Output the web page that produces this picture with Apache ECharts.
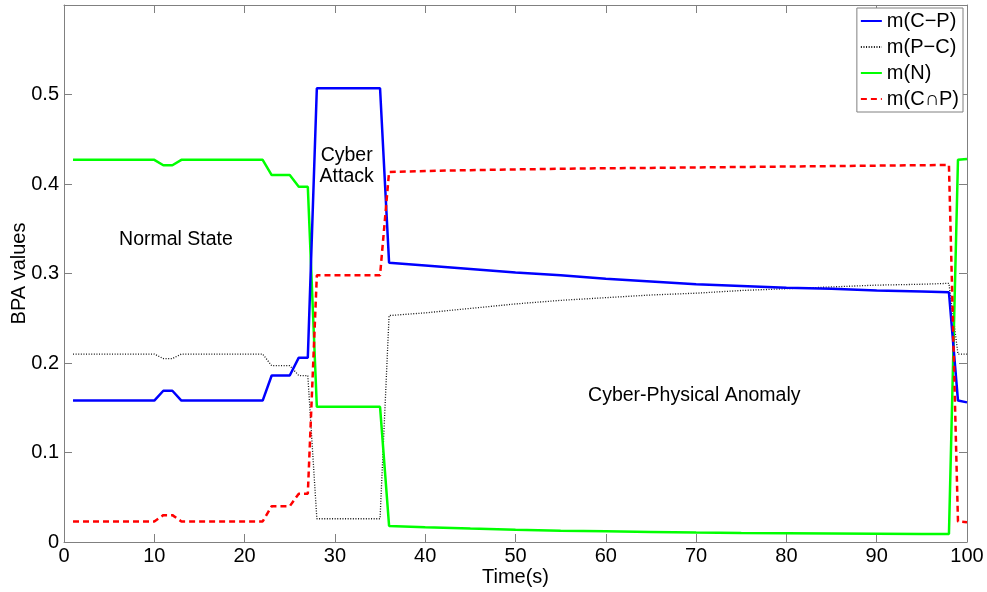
<!DOCTYPE html>
<html><head><meta charset="utf-8">
<script src="https://cdn.jsdelivr.net/npm/echarts@6/dist/echarts.min.js"></script>
<style>html,body{margin:0;padding:0;background:#fff}#c{width:987px;height:592px}</style>
</head><body><div id="c"></div>
<script>
// sample times (s)
const times = [1,10,11,12,13,22,23,25,26,27,28,35,36,40,45,50,55,60,65,70,75,80,85,90,95,98,99,100];
// m(C−P)
const mCP = [0.158,0.158,0.169,0.169,0.158,0.158,0.186,0.186,0.206,0.206,0.507,0.507,0.312,0.309,0.305,0.301,0.298,0.294,0.291,0.288,0.286,0.284,0.283,0.281,0.280,0.279,0.158,0.156];
// m(P−C)
const mPC = [0.21,0.21,0.205,0.205,0.21,0.21,0.197,0.197,0.186,0.186,0.026,0.026,0.253,0.256,0.261,0.266,0.270,0.273,0.276,0.278,0.281,0.283,0.285,0.287,0.288,0.289,0.21,0.21];
// m(N)
const mN = [0.427,0.427,0.421,0.421,0.427,0.427,0.41,0.41,0.397,0.397,0.151,0.151,0.018,0.0165,0.015,0.0137,0.0127,0.0119,0.0112,0.0106,0.0101,0.0097,0.0094,0.0092,0.009,0.0089,0.427,0.428];
// m(C∩P)
const mCandP = [0.023,0.023,0.03,0.03,0.023,0.023,0.04,0.04,0.054,0.054,0.298,0.298,0.4135,0.4145,0.4155,0.4163,0.417,0.4176,0.418,0.4185,0.419,0.4195,0.42,0.4205,0.421,0.4212,0.023,0.022];

const seriesNames = ['m(C\u2212P)','m(P\u2212C)','m(N)','m(C\u2229P)'];
const noteTexts = ['Normal State','Cyber\nAttack','Cyber-Physical Anomaly'];
const noteX = [12.4, 31.3, 69.8];
const noteY = [0.338, 0.42, 0.163];

const FONT = '"Liberation Sans", Arial, Helvetica, sans-serif';
const GREY = '#808080';
const pair = (ys) => times.map((t,i)=>[t, ys[i]]);

const axisCommon = {
  axisLine:{show:true,onZero:false,lineStyle:{color:GREY,width:1}},
  axisTick:{show:true,inside:true,length:8,lineStyle:{color:GREY}},
  splitLine:{show:false}
};

const chart = echarts.init(document.getElementById('c'), null, {renderer:'canvas'});
chart.setOption({
  animation:false,
  backgroundColor:'#fff',
  textStyle:{fontFamily:FONT},
  grid:{left:64,right:20,top:5,bottom:50,containLabel:false,outerBoundsMode:'none'},
  xAxis:[
    Object.assign({type:'value',min:0,max:100,interval:10,position:'bottom',
      axisLabel:{color:'#000',fontSize:20,margin:4,fontFamily:FONT},
      name:'Time(s)',nameLocation:'middle',nameGap:25,nameMoveOverlap:false,
      nameTextStyle:{color:'#000',fontSize:20,fontFamily:FONT}}, axisCommon),
    Object.assign({type:'value',min:0,max:100,interval:10,position:'top',
      axisLabel:{show:false}}, axisCommon)
  ],
  yAxis:[
    Object.assign({type:'value',min:0,max:0.6,interval:0.1,position:'left',
      axisLabel:{color:'#000',fontSize:20,margin:5,showMaxLabel:false,fontFamily:FONT},
      name:'BPA values',nameLocation:'middle',nameGap:35,nameMoveOverlap:false,
      nameTextStyle:{color:'#000',fontSize:20,fontFamily:FONT}}, axisCommon),
    Object.assign({type:'value',min:0,max:0.6,interval:0.1,position:'right',
      axisLabel:{show:false}}, axisCommon)
  ],
  legend:{
    data:seriesNames,orient:'vertical',right:24,top:8,
    itemWidth:21,itemHeight:14,itemGap:4,itemTextGap:3,padding:[2,4,2,3],
    borderColor:GREY,borderWidth:1,backgroundColor:'#fff',
    itemStyle:{opacity:0,borderWidth:0},
    textStyle:{color:'#000',fontSize:20,lineHeight:22,fontFamily:FONT}
  },
  series:[
    {name:seriesNames[0],type:'line',data:pair(mCP),symbol:'none',
      lineStyle:{color:'#0000ff',width:2.5},itemStyle:{color:'#0000ff'},z:3},
    {name:seriesNames[1],type:'line',data:pair(mPC),symbol:'none',
      lineStyle:{color:'#111',width:1.3,type:[1,1.6]},itemStyle:{color:'#111'},z:2},
    {name:seriesNames[2],type:'line',data:pair(mN),symbol:'none',
      lineStyle:{color:'#00ff00',width:2.5},itemStyle:{color:'#00ff00'},z:2},
    {name:seriesNames[3],type:'line',data:pair(mCandP),symbol:'none',
      lineStyle:{color:'#ff0000',width:2.5,type:[6,4]},itemStyle:{color:'#ff0000'},z:4},
    {name:'notes',type:'scatter',symbolSize:1,silent:true,
      itemStyle:{color:'rgba(0,0,0,0)'},
      data:noteTexts.map((t,i)=>({name:t,value:[noteX[i],noteY[i]]})),
      label:{show:true,position:'inside',formatter:'{b}',color:'#000',opacity:1,
        fontSize:19.5,fontFamily:FONT,lineHeight:21,align:'center',verticalAlign:'middle'}}
  ]
});
</script></body></html>
